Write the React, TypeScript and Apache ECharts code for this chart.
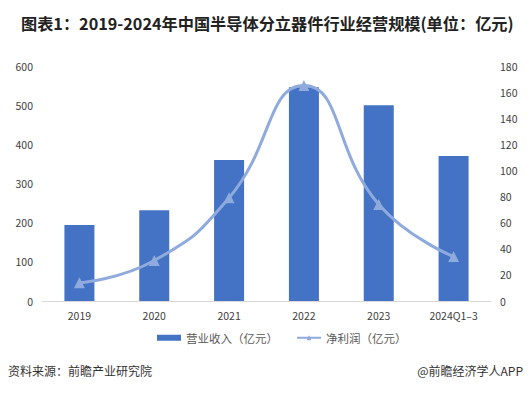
import React, { useEffect, useRef } from "react";
import * as echarts from "echarts";

const categories = ["2019", "2020", "2021", "2022", "2023", "2024Q1\u20133"];
const revenue = [194, 232, 360, 546, 500, 370];
const netProfit = [14, 31, 79, 165, 74, 34];
const leftTicks = [0, 600, 100];
const rightTicks = [0, 180, 20];

const FONT = "'Microsoft YaHei', 'Noto Sans CJK SC', sans-serif";

export default function App() {
  const ref = useRef<HTMLDivElement>(null);
  useEffect(() => {
    if (!ref.current) return;
    const chart = echarts.init(ref.current, undefined, { renderer: "svg" });
    chart.setOption({
      animation: false,
      backgroundColor: "#ffffff",
      title: {
        text: "图表1：2019-2024年中国半导体分立器件行业经营规模(单位：亿元)",
        left: 16,
        top: 10,
        textStyle: { fontSize: 16.2, fontWeight: "bold", color: "#222", fontFamily: FONT },
      },
      grid: { left: 42, right: 38, top: 66, bottom: 94, containLabel: false },
      legend: {
        top: 327,
        left: 152,
        itemGap: 18,
        itemWidth: 24,
        itemHeight: 6,
        textStyle: { fontSize: 11.5, color: "#595959", fontFamily: FONT },
        data: [
          { name: "营业收入（亿元）", icon: "rect" },
          { name: "净利润（亿元）" },
        ],
      },
      xAxis: {
        type: "category",
        data: categories,
        axisLine: { lineStyle: { color: "#d9d9d9" } },
        axisTick: { show: false },
        axisLabel: { color: "#404040", fontSize: 10.5, margin: 9, fontFamily: FONT },
      },
      yAxis: [
        {
          type: "value",
          min: leftTicks[0],
          max: leftTicks[1],
          interval: leftTicks[2],
          splitLine: { show: false },
          axisLine: { show: false },
          axisTick: { show: false },
          axisLabel: { color: "#404040", fontSize: 10.5, margin: 9, fontFamily: FONT },
        },
        {
          type: "value",
          min: rightTicks[0],
          max: rightTicks[1],
          interval: rightTicks[2],
          splitLine: { show: false },
          axisLine: { show: false },
          axisTick: { show: false },
          axisLabel: { color: "#404040", fontSize: 10.5, margin: 9, fontFamily: FONT },
        },
      ],
      series: [
        {
          name: "营业收入（亿元）",
          type: "bar",
          data: revenue,
          barWidth: 30,
          itemStyle: { color: "#4472c4" },
          yAxisIndex: 0,
        },
        {
          name: "净利润（亿元）",
          type: "line",
          data: netProfit,
          yAxisIndex: 1,
          smooth: 0.5,
          symbol: "triangle",
          symbolSize: 11,
          lineStyle: { color: "#8faadc", width: 3 },
          itemStyle: { color: "#8faadc" },
        },
      ],
      graphic: [
        {
          type: "text",
          left: 8,
          top: 364,
          style: { text: "资料来源：前瞻产业研究院", fontSize: 12, fill: "#333", fontFamily: FONT },
        },
        {
          type: "text",
          right: 6,
          top: 364,
          style: { text: "@前瞻经济学人APP", fontSize: 12, fill: "#333", fontFamily: FONT },
        },
      ],
    });
    return () => chart.dispose();
  }, []);
  return (
    <div
      ref={ref}
      style={{ position: "fixed", left: 0, top: 0, width: 529, height: 395, background: "#fff" }}
    />
  );
}
